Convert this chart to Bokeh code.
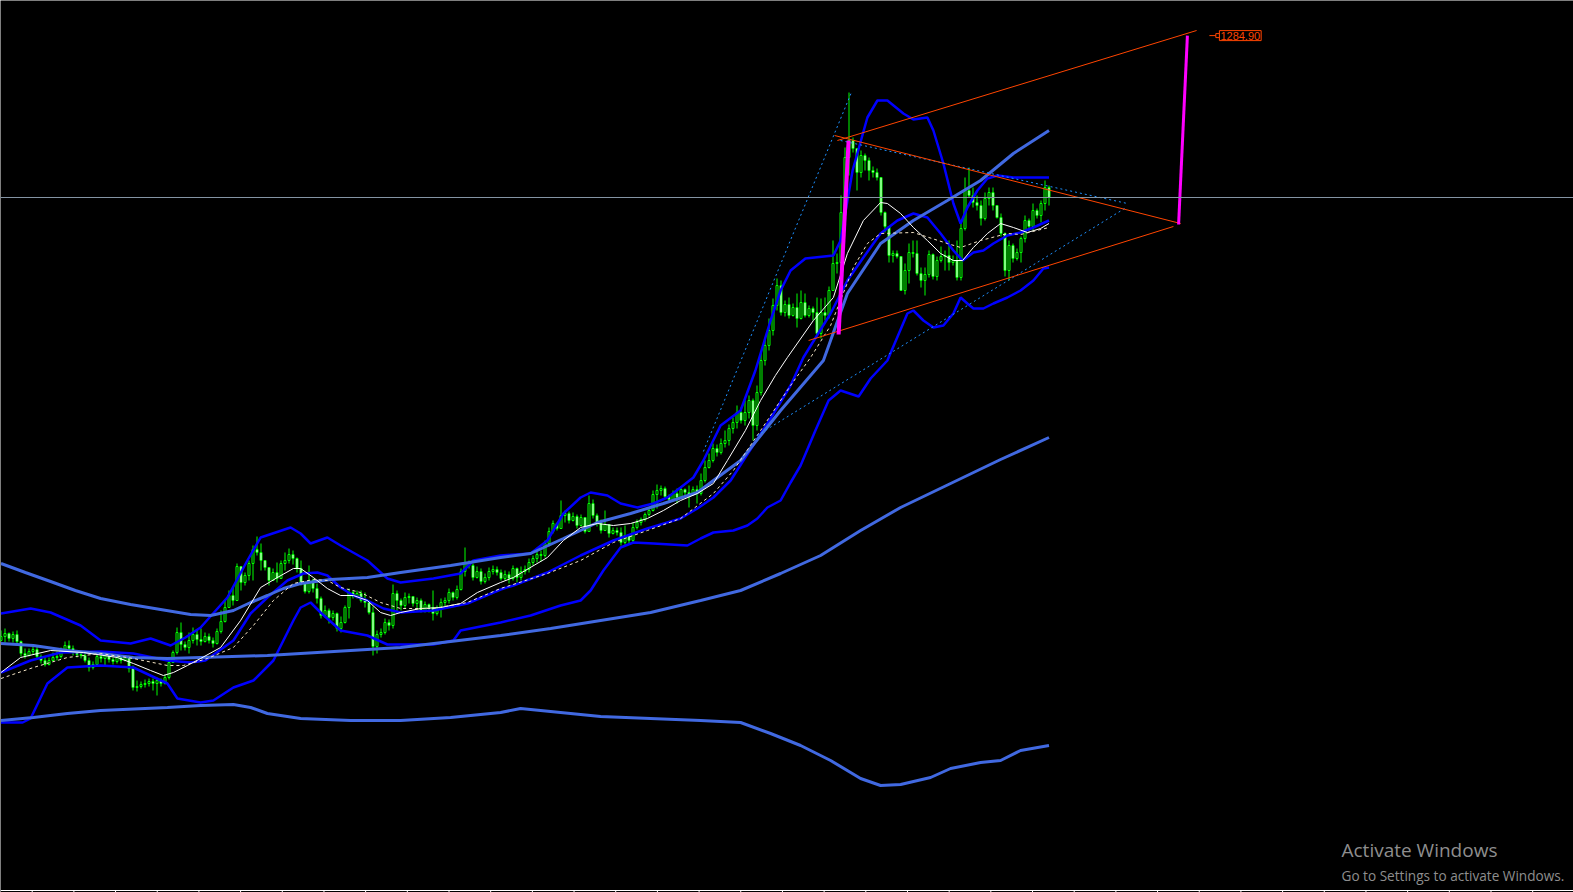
from bokeh.plotting import figure
from bokeh.models import Range1d, Label, Span, ColumnDataSource
from bokeh.embed import file_html
from bokeh.resources import INLINE

# ---- daily candles (open of each bar = previous close) ----
first_open = 680
close_ = [
    684, 687, 682, 686, 679, 667, 665, 669, 671, 664,
    660, 656, 660, 663, 664, 670, 675, 672, 668, 666,
    665, 660, 653, 656, 664, 662, 665, 661, 659, 663,
    660, 663, 652, 633, 634, 636, 637, 639, 637, 640,
    637, 643, 658, 668, 688, 676, 673, 680, 686, 681,
    679, 684, 680, 677, 689, 699, 713, 725, 720, 754,
    738, 745, 757, 771, 768, 760, 753, 740, 748, 742,
    757, 760, 766, 762, 752, 737, 729, 740, 732, 722,
    705, 710, 703, 707, 692, 698, 713, 728, 724, 727,
    720, 718, 708, 674, 686, 688, 698, 695, 727, 720,
    715, 723, 724, 717, 720, 710, 716, 713, 707, 712,
    718, 720, 728, 723, 731, 749, 757, 755, 743, 749,
    739, 743, 749, 751, 748, 742, 746, 742, 752, 743,
    749, 751, 758, 762, 766, 765, 777, 789, 797, 792,
    805, 807, 800, 804, 795, 803, 789, 817, 805, 797,
    790, 796, 787, 790, 788, 778, 785, 780, 793, 798,
    801, 806, 810, 826, 830, 832, 824, 821, 827, 823,
    831, 828, 826, 831, 827, 840, 853, 860, 872, 868,
    877, 880, 892, 898, 908, 900, 908, 920, 895, 928,
    960, 975, 990, 1015, 1035, 1008, 1016, 1005, 1013, 1002,
    1018, 1005, 1012, 1008, 987, 1008, 1005, 1030, 1057, 1058,
    1108, 1163, 1180, 1172, 1148, 1165, 1160, 1150, 1148, 1143,
    1108, 1094, 1065, 1067, 1064, 1030, 1050, 1068, 1067, 1047,
    1040, 1046, 1066, 1044, 1060, 1064, 1065, 1058, 1060, 1043,
    1092, 1130, 1125, 1118, 1115, 1102, 1122, 1128, 1115, 1103,
    1087, 1050, 1075, 1062, 1068, 1082, 1100, 1094, 1110, 1105,
    1117, 1133, 1123,
]
high_ = [
    690, 692, 688, 689, 690, 680, 672, 672, 674, 674,
    666, 664, 663, 668, 669, 673, 679, 680, 675, 669,
    668, 667, 663, 659, 666, 666, 668, 666, 663, 665,
    664, 665, 665, 655, 640, 639, 641, 642, 642, 643,
    642, 646, 660, 670, 693, 698, 679, 688, 693, 691,
    692, 688, 687, 683, 692, 710, 720, 730, 733, 757,
    750, 748, 760, 775, 784, 777, 760, 753, 752, 758,
    760, 768, 772, 770, 763, 760, 739, 755, 742, 737,
    724, 715, 712, 710, 708, 704, 715, 732, 730, 730,
    730, 728, 720, 714, 690, 692, 702, 701, 736, 730,
    722, 728, 727, 724, 723, 722, 719, 717, 730, 715,
    722, 723, 732, 729, 735, 752, 773, 760, 757, 754,
    752, 747, 753, 755, 754, 751, 750, 749, 755, 753,
    754, 755, 762, 765, 769, 770, 780, 793, 800, 798,
    820, 810, 809, 808, 806, 806, 799, 825, 821, 807,
    801, 810, 794, 793, 793, 793, 795, 786, 798, 801,
    803, 808, 812, 830, 836, 835, 834, 826, 830, 832,
    834, 832, 835, 834, 835, 847, 860, 867, 877, 876,
    882, 890, 896, 903, 915, 913, 920, 925, 922, 935,
    968, 982, 1002, 1022, 1042, 1040, 1020, 1023, 1017, 1027,
    1030, 1027, 1015, 1014, 1023, 1022, 1023, 1034, 1080, 1067,
    1125, 1173, 1228, 1183, 1172, 1170, 1167, 1163, 1154, 1152,
    1140, 1109, 1092, 1070, 1070, 1062, 1057, 1077, 1080, 1080,
    1053, 1053, 1070, 1067, 1064, 1074, 1070, 1080, 1065, 1080,
    1100, 1143, 1153, 1133, 1125, 1120, 1128, 1133, 1133, 1115,
    1107, 1088, 1080, 1077, 1072, 1084, 1105, 1102, 1117, 1112,
    1120, 1140, 1135,
]
low_ = [
    679, 678, 679, 678, 675, 664, 662, 664, 666, 662,
    657, 654, 655, 659, 660, 662, 668, 669, 665, 663,
    662, 658, 649, 651, 654, 658, 654, 658, 656, 657,
    657, 659, 648, 630, 629, 632, 633, 634, 630, 625,
    634, 636, 641, 658, 666, 670, 670, 667, 677, 675,
    675, 678, 677, 673, 676, 687, 698, 713, 715, 720,
    730, 735, 740, 740, 765, 750, 750, 735, 740, 738,
    747, 750, 757, 756, 748, 735, 727, 727, 728, 717,
    702, 703, 697, 700, 689, 688, 697, 702, 722, 722,
    718, 713, 706, 665, 667, 683, 686, 690, 692, 707,
    710, 712, 717, 714, 710, 708, 708, 708, 700, 705,
    703, 714, 717, 720, 721, 730, 744, 752, 740, 742,
    736, 737, 740, 746, 745, 740, 740, 737, 740, 738,
    740, 746, 748, 755, 758, 759, 763, 774, 787, 790,
    792, 798, 797, 799, 792, 794, 787, 793, 802, 794,
    787, 792, 783, 786, 785, 775, 776, 777, 778, 791,
    795, 799, 804, 809, 812, 825, 822, 818, 820, 817,
    822, 825, 813, 825, 817, 825, 838, 852, 858, 864,
    866, 873, 875, 887, 892, 897, 895, 902, 880, 890,
    925, 955, 970, 985, 1010, 1005, 1004, 1002, 1004, 993,
    1001, 1003, 1003, 1000, 985, 982, 1000, 1002, 1033, 1047,
    1053, 1093, 1145, 1168, 1130, 1143, 1150, 1140, 1143, 1140,
    1105, 1088, 1058, 1058, 1062, 1030, 1026, 1037, 1063, 1045,
    1033, 1025, 1043, 1041, 1040, 1058, 1050, 1050, 1055, 1040,
    1040, 1090, 1123, 1113, 1110, 1095, 1100, 1115, 1110, 1102,
    1084, 1044, 1040, 1058, 1060, 1058, 1078, 1090, 1090, 1102,
    1098, 1110, 1115,
]

# ---- indicator readings: (bar, price) ----
bb_long_upper = [(0, 757), (6.1, 748), (12.4, 739), (18.6, 730), (24.9, 722), (32.4, 716),
                 (39.9, 711), (47.4, 706), (52.4, 705), (58.1, 710), (62.4, 718), (66.6, 725),
                 (70.6, 732), (74.9, 737), (82.4, 741), (91.6, 743), (99.9, 748), (112.4, 755),
                 (124.9, 763), (132.4, 767), (140.6, 782), (149.1, 798), (157.4, 807), (165.6, 817),
                 (174.1, 828), (178.1, 840), (184.9, 860), (194.9, 910), (205.6, 960), (211.6, 1027),
                 (219.9, 1077), (228.1, 1100), (236.6, 1120), (244.9, 1140), (253.1, 1167), (262, 1190)]
bb_long_mid = [(0, 677), (8.1, 675), (16.6, 670), (24.9, 667), (33.1, 663), (41.6, 662),
               (49.9, 663), (66.6, 665), (74.9, 667), (99.9, 673), (124.9, 685), (137.4, 692),
               (149.9, 700), (162.4, 708), (174.9, 720), (184.9, 730), (194.9, 747), (204.9, 765),
               (214.9, 790), (224.9, 813), (237.4, 837), (249.9, 861), (262, 883)]
bb_long_lower = [(0, 600), (8.1, 603), (16.6, 607), (24.9, 610), (41.6, 613), (49.9, 615),
                 (58.1, 616), (62.4, 613), (66.6, 607), (74.9, 602), (87.4, 600), (99.9, 600),
                 (112.4, 603), (124.9, 608), (129.9, 612), (139.9, 608), (149.9, 604), (162.4, 602),
                 (174.9, 600), (184.9, 598), (192.4, 587), (199.9, 575), (207.4, 560), (214.9, 542),
                 (219.9, 535), (224.9, 536), (232.4, 543), (237.4, 552), (244.9, 558), (249.9, 560),
                 (254.9, 570), (262, 575)]

bb_upper = [(0, 707), (7.4, 712), (12.4, 708), (19.9, 695), (24.9, 680), (32.4, 677), (37.4, 682),
            (42.4, 675), (46.1, 683), (49.9, 693), (56.6, 723), (61.6, 760), (64.9, 783), (72.4, 793),
            (74.9, 787), (77.4, 777), (81.6, 783), (84.9, 775), (91.6, 760), (96.6, 742), (99.9, 738),
            (108.1, 742), (114.9, 747), (118.1, 760), (124.9, 765), (132.4, 767), (136.6, 780),
            (140.6, 807), (144.9, 823), (147.4, 828), (151.6, 825), (154.9, 817), (159.1, 813),
            (163.1, 817), (166.6, 823), (169.9, 833), (173.1, 843), (175.6, 860), (179.9, 895),
            (184.9, 910), (188.6, 950), (192.4, 1000), (194.9, 1030), (197.4, 1050), (201.1, 1062),
            (208.1, 1065), (209.9, 1080), (212.9, 1150), (216.6, 1203), (219.1, 1220), (221.6, 1220),
            (225.6, 1207), (228.1, 1201), (231.6, 1203), (233.1, 1190), (235.6, 1157), (238.1, 1117),
            (239.9, 1097), (241.6, 1113), (244.1, 1130), (246.6, 1142), (249.1, 1145), (253.1, 1143),
            (262, 1143)]
bb_mid = [(0, 648), (7.4, 660), (14.9, 668), (24.9, 669), (33.1, 667), (41.6, 660), (47.4, 658),
          (51.1, 660), (58.1, 680), (62.4, 707), (66.6, 723), (71.6, 740), (75.6, 747), (79.1, 748),
          (81.6, 745), (84.9, 733), (88.1, 725), (91.6, 720), (95.6, 712), (99.9, 708), (108.1, 710),
          (116.6, 717), (124.9, 731), (128.1, 735), (136.6, 748), (144.9, 765), (153.1, 780),
          (161.6, 792), (169.9, 802), (174.1, 812), (178.1, 823), (182.4, 840), (185.6, 860),
          (192.4, 902), (197.4, 935), (200.6, 963), (207.4, 1007), (211.6, 1040), (215.6, 1063),
          (219.9, 1087), (224.1, 1100), (228.1, 1107), (231.6, 1103), (234.9, 1087), (238.1, 1070),
          (240.4, 1060), (243.1, 1068), (245.6, 1070), (248.1, 1077), (251.6, 1085), (254.9, 1088),
          (258.1, 1093), (262, 1100)]
bb_lower = [(0, 598), (5.4, 598), (7.4, 602), (11.6, 637), (16.6, 653), (24.9, 655), (33.1, 653),
            (41.6, 637), (44.1, 622), (49.9, 618), (53.1, 620), (58.1, 633), (63.1, 640), (68.1, 660),
            (73.1, 700), (74.9, 713), (77.4, 718), (79.9, 708), (84.9, 690), (91.6, 685), (96.6, 676),
            (108.1, 676), (113.1, 680), (114.9, 690), (124.9, 698), (132.4, 705), (139.9, 715),
            (144.9, 720), (147.4, 730), (150.6, 750), (154.9, 773), (158.1, 778), (163.1, 777),
            (171.6, 775), (174.9, 782), (178.1, 788), (183.1, 790), (186.6, 795), (189.1, 802),
            (191.6, 813), (194.9, 820), (197.4, 838), (199.9, 855), (203.6, 890), (206.9, 920),
            (209.9, 930), (214.4, 924), (217.4, 942), (221.6, 960), (226.6, 1007), (228.1, 1010),
            (230.6, 1000), (233.1, 993), (235.6, 995), (238.1, 1007), (239.9, 1023), (241.6, 1017),
            (243.1, 1012), (245.6, 1012), (248.1, 1017), (251.6, 1023), (254.9, 1030), (258.1, 1040),
            (260.6, 1052), (262, 1053)]

ma_fast = [(0, 648), (4.9, 663), (12.4, 670), (20.6, 668), (29.1, 663), (33.1, 657), (37.4, 650),
           (40.6, 645), (43.1, 648), (46.6, 655), (49.9, 662), (54.9, 673), (59.9, 700), (64.9, 733),
           (69.1, 743), (73.1, 752), (74.9, 752), (78.1, 743), (81.6, 732), (84.9, 725), (88.1, 725),
           (91.6, 720), (94.9, 708), (97.4, 705), (99.9, 708), (104.9, 712), (109.9, 713), (114.9, 717),
           (119.1, 728), (124.9, 738), (128.1, 743), (136.6, 763), (140.6, 780), (144.9, 793),
           (149.1, 797), (153.1, 795), (157.4, 797), (161.6, 802), (165.6, 810), (169.9, 820),
           (174.1, 827), (178.1, 837), (181.6, 860), (186.1, 890), (189.9, 920), (193.6, 945),
           (196.6, 963), (203.1, 1000), (208.1, 1023), (211.6, 1067), (215.6, 1100), (219.9, 1118),
           (221.6, 1117), (224.9, 1107), (228.1, 1093), (231.6, 1080), (234.9, 1067), (238.1, 1060),
           (240.4, 1060), (243.1, 1073), (246.6, 1087), (249.9, 1097), (253.1, 1093), (256.6, 1088),
           (259.9, 1092), (262, 1097)]
ma_slow = [(0, 642), (8.1, 653), (16.6, 663), (24.9, 667), (33.1, 662), (41.6, 655), (45.6, 655),
           (51.6, 662), (58.1, 673), (63.1, 695), (68.1, 720), (73.1, 737), (78.1, 741), (81.6, 740),
           (84.9, 733), (89.9, 728), (94.9, 718), (99.9, 712), (108.1, 712), (116.6, 718), (124.9, 732),
           (136.6, 747), (144.9, 760), (153.1, 778), (161.6, 790), (169.9, 802), (178.1, 827),
           (183.1, 850), (189.9, 890), (197.4, 935), (202.4, 963), (207.4, 995), (213.1, 1053),
           (216.6, 1077), (219.9, 1087), (228.1, 1088), (236.6, 1077), (239.9, 1073), (244.9, 1080),
           (251.6, 1087), (254.9, 1086), (262, 1093)]

# ---- drawn objects (bar, price) ----
channel_upper = [(209.1, 1180), (298.9, 1290)]
channel_lower = [(201.9, 980), (293.1, 1094)]
wedge_top = [(208.4, 1185), (294.9, 1097)]
dotted_impulse = [(175.6, 869), (212.6, 1228)]
dotted_top = [(209.9, 1180), (281.6, 1117)]
dotted_bottom = [(189.0, 885), (280.9, 1112)]
pole_start, pole_end = (209.4, 986), (211.9, 1180)
target_start = (294.4, 1096)
target_bar, target_price = 296.6, 1284.90

# time-axis tick positions (bar units)
time_ticks = [7.8 + 10.42 * i for i in range(-1, 39)]

# ---- colours ----
BG = "black"
LIME = "#00FF00"
BLUE = "#0000FF"
ROYAL = "#4169E1"
ORANGE = "#FF4500"
MAGENTA = "#FF00FF"
DODGER = "#1E90FF"

n = len(close_)
bars = list(range(n))
open_ = [first_open] + close_[:-1]
bull = [c >= o for o, c in zip(open_, close_)]

src = ColumnDataSource(dict(
    x=bars, o=open_, c=close_, h=high_, l=low_,
    fill=["black" if b else "white" for b in bull],
))

Y_TOP, Y_BOTTOM = 1320, 428
p = figure(frame_width=1573, frame_height=892,
           x_range=Range1d(-0.125, 393.125), y_range=Range1d(Y_BOTTOM, Y_TOP),
           output_backend="svg", toolbar_location=None,
           x_axis_location=None, y_axis_location=None,
           background_fill_color=BG, border_fill_color=BG, outline_line_color=None,
           min_border=0, min_border_left=0, min_border_right=0, min_border_top=0, min_border_bottom=0)
p.grid.visible = False

# time scale: base line with short tick marks under it
axis_level = Y_BOTTOM + 2
p.add_layout(Span(location=axis_level, dimension="width", line_color="white", line_width=1))
p.segment(x0=time_ticks, y0=[Y_BOTTOM] * len(time_ticks), x1=time_ticks,
          y1=[axis_level] * len(time_ticks), line_color="white", line_width=1)

# candles
p.segment(x0="x", y0="l", x1="x", y1="h", source=src, line_color=LIME, line_width=1)
p.vbar(x="x", bottom="o", top="c", width=0.5, source=src,
       fill_color="fill", line_color=LIME, line_width=1)


def draw(pts, **kw):
    xs, ys = zip(*pts)
    p.line(list(xs), list(ys), **kw)


# 20-period bands
for pts in (bb_upper, bb_mid, bb_lower):
    draw(pts, line_color=BLUE, line_width=2.5)
# long bands
for pts in (bb_long_upper, bb_long_mid, bb_long_lower):
    draw(pts, line_color=ROYAL, line_width=3)
# moving averages
draw(ma_fast, line_color="white", line_width=1)
draw(ma_slow, line_color="#F5E6C8", line_width=1, line_dash="3 3")

# dotted trend lines
for pts in (dotted_impulse, dotted_top, dotted_bottom):
    draw(pts, line_color=DODGER, line_width=1, line_dash="2 3")

# channel
for pts in (channel_upper, channel_lower, wedge_top):
    draw(pts, line_color=ORANGE, line_width=1)

# pole and projected target
draw([pole_start, pole_end], line_color=MAGENTA, line_width=4)
draw([target_start, (target_bar, target_price)], line_color=MAGENTA, line_width=3)

# current price line
p.add_layout(Span(location=close_[-1], dimension="width", line_color="#8494a4", line_width=1))

# target price tag
p.segment(x0=[target_bar + 5.5], y0=[target_price], x1=[target_bar + 7.5], y1=[target_price],
          line_color=ORANGE, line_width=1)
p.scatter(x=[target_bar + 7.6], y=[target_price], marker="square", size=4,
          line_color=ORANGE, fill_color="black", line_width=1)
p.add_layout(Label(x=target_bar, y=target_price, x_offset=32, text=f"{target_price:.2f}",
                   text_color=ORANGE, text_font_size="11px", text_font="Liberation Sans",
                   text_baseline="middle", border_line_color=ORANGE, border_line_width=1,
                   background_fill_color="black", padding=1))

# system watermark
p.add_layout(Label(x=1341, y=30, x_units="screen", y_units="screen", text="Activate Windows",
                   text_color="#8e8e8e", text_font_size="19px", text_font="Open Sans"))
p.add_layout(Label(x=1341, y=8, x_units="screen", y_units="screen",
                   text="Go to Settings to activate Windows.",
                   text_color="#8e8e8e", text_font_size="13.6px", text_font="Open Sans"))

open("out.html", "w").write(file_html(p, INLINE))
